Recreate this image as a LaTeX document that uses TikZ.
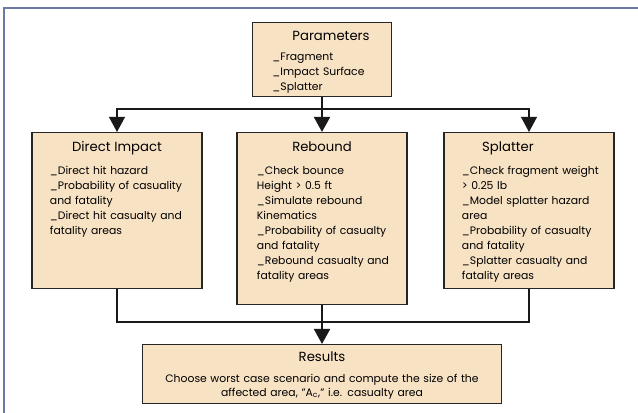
\documentclass[tikz,border=0pt]{standalone}
\usepackage{fontspec}
\setmainfont{Poppins}
\usepackage{xcolor}
\usepackage{tikz}
\usetikzlibrary{arrows.meta, positioning, calc}

\definecolor{peach}{HTML}{F8E2C4}
\definecolor{frameblue}{HTML}{6C7AA3}
\newcommand{\bodyfont}{\fontsize{7.7}{10.67}\selectfont}
\newcommand{\headfont}{\fontsize{9.4}{12}\selectfont}
\newcommand{\boxhead}[2][-0.25cm]{\hspace*{\fill}\hspace*{#1}{\headfont #2}\hspace*{\fill}\null}

\begin{document}
\begin{tikzpicture}[
    x=0.025cm, y=-0.025cm,
    stagebox/.style={rectangle, draw=black!85, line width=1pt, fill=peach, anchor=north, align=left, font=\bodyfont, inner xsep=0.2cm, inner ysep=0.15cm, text width=3.85cm, text height=0.325cm},
    indent/.style={execute at begin node={\leftskip=#1}},
    link/.style={draw=black!90, line width=1.1pt},
    arrow/.style={link, -{Triangle[width=0.4cm, length=0.38cm]}},
    frame/.style={draw=frameblue, line width=1.5pt}
]
    \useasboundingbox (0,0) rectangle (638,413);
    \draw[frame] (4,413) -- (4,8) -- (638,8);

    % input box
    \node[stagebox, indent=0.3cm, text width=3.075cm, text height=0.2875cm, text depth=1.2625cm] (params) at (322,22)
        {\boxhead[0.15cm]{Parameters}\\[3.9pt]
         \_Fragment\\
         \_Impact Surface\\
         \_Splatter};

    % the three cases
    \node[stagebox, indent=0.25cm, text depth=3.275cm] (direct) at (117,132)
        {\boxhead{Direct Impact}\\[5.7pt]
         \_Direct hit hazard\\
         \_Probability of casuality\\
         and fatality\\
         \_Direct hit casualty and\\
         fatality areas};
    \node[stagebox, indent=0.3cm, text depth=3.675cm] (rebound) at (322,132)
        {\boxhead[-0.3cm]{Rebound}\\[5.7pt]
         \_Check bounce\\
         Height > 0.5 ft\\
         \_Simulate rebound\\
         Kinematics\\
         \_Probability of casualty\\
         and fatality\\
         \_Rebound casualty and\\
         fatality areas};
    \node[stagebox, indent=0.25cm, text depth=3.275cm] (splatter) at (529,132)
        {\boxhead[-1.3cm]{Splatter}\\[5.7pt]
         \_Check fragment weight\\
         > 0.25 lb\\
         \_Model splatter hazard\\
         area\\
         \_Probability of casualty\\
         and fatality\\
         \_Splatter casualty and\\
         fatality areas};

    % output box
    \node[stagebox, align=center, text width=8.575cm, text height=0.2675cm, text depth=0.9075cm, font=\fontsize{7.7}{9.9}\selectfont] (results) at (322,344)
        {{\headfont Results}\\[5pt]
         Choose worst case scenario and compute the size of the\\
         affected area, "A\textsubscript{c}," i.e. casualty area};

    \coordinate (fork) at (322,109);
    \coordinate (join) at (322,322);

    \draw[arrow, line width=1.8pt] (params) -- (rebound);
    \draw[arrow] (fork) -| (direct);
    \draw[arrow] (fork) -| (splatter);
    \draw[link] (direct) |- (join);
    \draw[link] (splatter) |- (join);
    \draw[arrow, line width=1.8pt] (rebound) -- (results);
\end{tikzpicture}
\end{document}
